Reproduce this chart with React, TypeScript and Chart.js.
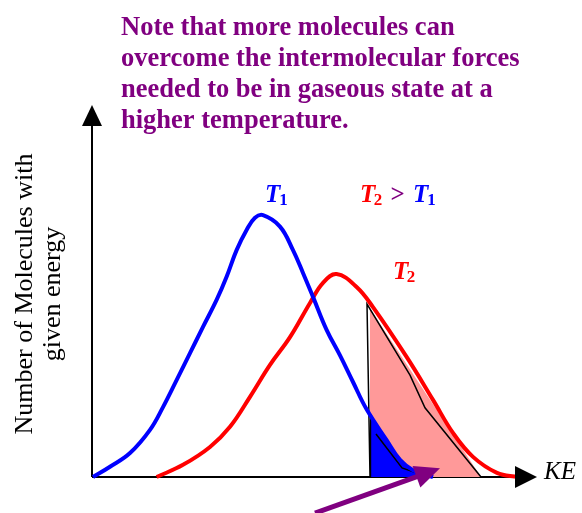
import React, { useEffect, useRef } from "react";
import { Chart, registerables } from "chart.js";

Chart.register(...registerables);

const WIDTH = 582;
const HEIGHT = 513;
const PURPLE = "#800080";
const SERIF = "'Liberation Serif', 'Times New Roman', serif";

// Kinetic-energy distribution at the lower temperature T1
const t1Energy = [0, 4.25, 9.25, 14.25, 17.5, 20.9, 24.25, 27.5, 30.9, 33.4, 35.9, 38.4, 40.5, 42.5, 46.75, 50, 52.5, 55, 58.4, 61.75, 65, 68.4, 73.4, 76.75, 80, 85];
const t1Count = [0, 2.7, 6.3, 12.4, 18.4, 25.5, 32.6, 39.5, 46.6, 52.7, 59.7, 65, 68.2, 68.9, 65.9, 59.7, 53.7, 47.4, 38.7, 32, 25, 17.8, 9.7, 4.5, 1.8, 0];

// Kinetic-energy distribution at the higher temperature T2
const t2Energy = [15.9, 22.5, 29.25, 34.25, 39.25, 44.25, 49.25, 54.25, 57.5, 60.9, 65.9, 70, 78.4, 85, 90, 95, 101, 106.25];
const t2Count = [0, 3.2, 7.9, 13.2, 21.1, 29.5, 36.8, 45.8, 51.1, 53.4, 50, 44.7, 31.6, 20.3, 11.6, 5.3, 1.1, 0];

// Molecules energetic enough for the gas phase at T2 (pink area)
const fastT2Energy = [69.25, 68.5, 79.25, 83, 97];
const fastT2Count = [0, 45.5, 26.8, 18.2, 0];

// Molecules energetic enough for the gas phase at T1 (blue area)
const fastT1Energy = [69.4, 73.4, 76.75, 80, 85];
const fastT1Count = [16.2, 9.7, 4.5, 1.8, 0];

// Outline inside the blue area
const innerEdgeEnergy = [70.75, 77.25, 81.75];
const innerEdgeCount = [11.3, 2.4, 0.8];

// Left edge of the blue area
const blueEdgeEnergy = [69.4, 69.4];
const blueEdgeCount = [0, 16.2];

// Pointer towards the shaded areas (data units)
const pointerFrom = [55.5, -9.5];
const pointerTo = [86.75, 2.3];

const noteLines = [
  "Note that more molecules can",
  "overcome the intermolecular forces",
  "needed to be in gaseous state at a",
  "higher temperature.",
];
const yTitleLines = ["Number of Molecules with", "given energy"];
const xTitle = "KE";

const pts = (xs: number[], ys: number[]) => xs.map((x, i) => ({ x, y: ys[i] }));

function filledTriangle(ctx: CanvasRenderingContext2D, a: number[], b: number[], c: number[]) {
  ctx.beginPath();
  ctx.moveTo(a[0], a[1]);
  ctx.lineTo(b[0], b[1]);
  ctx.lineTo(c[0], c[1]);
  ctx.closePath();
  ctx.fill();
}

const axesPlugin = {
  id: "arrowAxes",
  beforeDatasetsDraw(chart: any) {
    const { ctx, chartArea } = chart;
    const x0 = chartArea.left - 1;
    const y0 = chartArea.bottom;
    ctx.save();
    ctx.strokeStyle = "#000";
    ctx.fillStyle = "#000";
    ctx.lineWidth = 2;
    ctx.beginPath();
    ctx.moveTo(x0, y0);
    ctx.lineTo(x0, chartArea.top + 20);
    ctx.moveTo(x0, y0);
    ctx.lineTo(chartArea.right - 18, y0);
    ctx.stroke();
    // y arrow head
    filledTriangle(ctx, [x0, chartArea.top + 8], [x0 - 10, chartArea.top + 29], [x0 + 10, chartArea.top + 29]);
    ctx.restore();
  },
  afterDatasetsDraw(chart: any) {
    const { ctx, chartArea } = chart;
    const y0 = chartArea.bottom;
    ctx.save();
    ctx.fillStyle = "#000";
    // x arrow head
    filledTriangle(ctx, [chartArea.right + 4, y0], [chartArea.right - 18, y0 - 11], [chartArea.right - 18, y0 + 11]);
    ctx.restore();
  },
};

const labelsPlugin = {
  id: "labels",
  afterDatasetsDraw(chart: any) {
    const { ctx, chartArea, scales } = chart;
    ctx.save();

    // pointer arrow
    const sx = scales.x.getPixelForValue(pointerFrom[0]);
    const sy = scales.y.getPixelForValue(pointerFrom[1]);
    const ex = scales.x.getPixelForValue(pointerTo[0]);
    const ey = scales.y.getPixelForValue(pointerTo[1]);
    const len = Math.hypot(ex - sx, ey - sy);
    const ux = (ex - sx) / len;
    const uy = (ey - sy) / len;
    const headLen = 25;
    const headHalf = 11.5;
    const bx = ex - ux * headLen;
    const by = ey - uy * headLen;
    ctx.strokeStyle = PURPLE;
    ctx.fillStyle = PURPLE;
    ctx.lineWidth = 5;
    ctx.beginPath();
    ctx.moveTo(sx, sy);
    ctx.lineTo(bx + ux * 2, by + uy * 2);
    ctx.stroke();
    filledTriangle(ctx, [ex, ey], [bx - uy * headHalf, by + ux * headHalf], [bx + uy * headHalf, by - ux * headHalf]);

    // note text
    ctx.fillStyle = PURPLE;
    ctx.font = `bold 26.5px ${SERIF}`;
    ctx.textAlign = "left";
    ctx.textBaseline = "alphabetic";
    noteLines.forEach((line, i) => ctx.fillText(line, 121, 34.5 + i * 31.2));

    // x title
    ctx.fillStyle = "#000";
    ctx.font = `italic 25px ${SERIF}`;
    ctx.fillText(xTitle, chartArea.right + 11, chartArea.bottom + 2);

    // y title (rotated)
    ctx.font = `26px ${SERIF}`;
    ctx.textAlign = "center";
    const yc = 294;
    [32, 59.5].forEach((bx2, i) => {
      ctx.save();
      ctx.translate(bx2, yc);
      ctx.rotate(-Math.PI / 2);
      ctx.fillText(yTitleLines[i], 0, 0);
      ctx.restore();
    });

    // series labels
    ctx.textAlign = "left";
    const run = (x: number, y: number, text: string, font: string, color: string) => {
      ctx.font = font;
      ctx.fillStyle = color;
      ctx.fillText(text, x, y);
      return x + ctx.measureText(text).width;
    };
    const tFont = `bold italic 25px ${SERIF}`;
    const subFont = `bold 17px ${SERIF}`;

    let x = run(265, 201.5, "T", tFont, "#0000ff");
    run(x - 1, 204.5, "1", subFont, "#0000ff");

    x = run(360, 201.5, "T", tFont, "#ff0000");
    run(x - 1.5, 205, "2", subFont, "#ff0000");
    run(390.5, 201.5, ">", `bold 25px ${SERIF}`, PURPLE);
    x = run(413, 201.5, "T", tFont, "#0000ff");
    run(x - 1, 205, "1", subFont, "#0000ff");

    x = run(393, 278.5, "T", tFont, "#ff0000");
    run(x - 1.5, 282, "2", subFont, "#ff0000");

    ctx.restore();
  },
};

export default function App() {
  const canvasRef = useRef<HTMLCanvasElement | null>(null);

  useEffect(() => {
    const canvas = canvasRef.current;
    if (!canvas) return;
    const chart = new Chart(canvas, {
      type: "line",
      data: {
        datasets: [
          {
            label: "T1",
            data: pts(t1Energy, t1Count),
            borderColor: "#0000ff",
            borderWidth: 4,
            tension: 0.4,
            pointRadius: 0,
            fill: false,
            clip: false,
            order: 0,
          },
          {
            label: "T2",
            data: pts(t2Energy, t2Count),
            borderColor: "#ff0000",
            borderWidth: 4,
            tension: 0.4,
            pointRadius: 0,
            fill: false,
            clip: false,
            order: 1,
          },
          {
            label: "inner edge",
            data: pts(innerEdgeEnergy, innerEdgeCount),
            borderColor: "#000",
            borderWidth: 1.5,
            tension: 0,
            pointRadius: 0,
            fill: false,
            clip: false,
            order: 2,
          },
          {
            label: "blue edge",
            data: pts(blueEdgeEnergy, blueEdgeCount),
            borderColor: "#000",
            borderWidth: 1.2,
            tension: 0,
            pointRadius: 0,
            fill: false,
            clip: false,
            order: 3,
          },
          {
            label: "fast T1",
            data: pts(fastT1Energy, fastT1Count),
            borderColor: "#0000ff",
            backgroundColor: "#0000ff",
            borderWidth: 1,
            tension: 0.4,
            pointRadius: 0,
            fill: "origin",
            clip: false,
            order: 4,
          },
          {
            label: "fast T2",
            data: pts(fastT2Energy, fastT2Count),
            borderColor: "#000",
            backgroundColor: "#ff9999",
            borderWidth: 1.5,
            tension: 0,
            pointRadius: 0,
            fill: "origin",
            clip: false,
            order: 5,
          },
        ],
      },
      options: {
        responsive: false,
        animation: false,
        devicePixelRatio: 1,
        layout: { padding: { left: 93, right: 49, top: 97, bottom: 36 } },
        scales: {
          x: { type: "linear", min: 0, max: 110, display: false },
          y: { type: "linear", min: 0, max: 100, display: false },
        },
        plugins: {
          legend: { display: false },
          tooltip: { enabled: false },
          title: { display: false },
        },
      },
      plugins: [axesPlugin, labelsPlugin],
    });
    return () => chart.destroy();
  }, []);

  return (
    <div style={{ position: "fixed", left: 0, top: 0, width: WIDTH, height: HEIGHT, background: "#fff" }}>
      <canvas ref={canvasRef} width={WIDTH} height={HEIGHT} style={{ display: "block" }} />
    </div>
  );
}
